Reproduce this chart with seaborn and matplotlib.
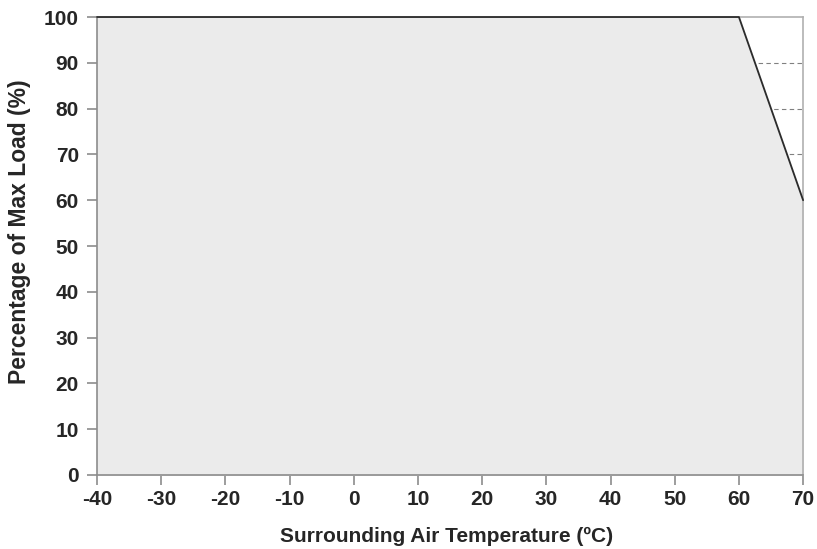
import matplotlib
matplotlib.use('Agg')
import matplotlib.pyplot as plt
import seaborn as sns
import pandas as pd

# Derating curve data
temperature = [-40, 60, 70]
load_pct = [100, 100, 60]
x_ticks = [-40, -30, -20, -10, 0, 10, 20, 30, 40, 50, 60, 70]
y_ticks = [0, 10, 20, 30, 40, 50, 60, 70, 80, 90, 100]


def main():
    sns.set_style('white')
    plt.rcParams['font.family'] = ['Liberation Sans', 'DejaVu Sans']
    plt.rcParams['font.weight'] = 'bold'
    plt.rcParams['axes.unicode_minus'] = False

    df = pd.DataFrame({'temp': temperature, 'load': load_pct})

    fig = plt.figure(figsize=(8.17, 5.49), dpi=100)
    ax = fig.add_axes([0.1187, 0.1348, 0.8643, 0.8342])

    # dashed horizontal gridlines (hidden under fill where covered)
    for yv in y_ticks[1:-1]:
        ax.axhline(yv, color='#808080', linestyle=(0, (4, 3)), linewidth=0.8, zorder=0)

    ax.fill_between(df['temp'], df['load'], 0, color='#ebebeb', zorder=1)
    sns.lineplot(data=df, x='temp', y='load', color='#2b2b2b', linewidth=1.3, ax=ax,
                 zorder=4, clip_on=False)

    ax.set_xlim(-40, 70)
    ax.set_ylim(0, 100)
    ax.set_xticks(x_ticks)
    ax.set_yticks(y_ticks)

    for side in ['left', 'bottom', 'right', 'top']:
        ax.spines[side].set_color('#8c8c8c')
        ax.spines[side].set_linewidth(1.2)
        ax.spines[side].set_zorder(3)
    ax.spines['right'].set_color('#b0b0b0')
    ax.spines['top'].set_color('#b0b0b0')

    ax.tick_params(axis='both', direction='out', length=7, width=1.2, color='#8c8c8c',
                   labelsize=15, pad=6, bottom=True, left=True)
    for lbl in ax.get_xticklabels() + ax.get_yticklabels():
        lbl.set_fontweight('bold')
    ax.tick_params(axis='x', pad=4)

    ax.set_xlabel('Surrounding Air Temperature (ºC)', fontsize=15, fontweight='bold')
    ax.set_ylabel('Percentage of Max Load (%)', fontsize=16.5, fontweight='bold')
    ax.xaxis.set_label_coords(0.495, -0.114)
    ax.yaxis.set_label_coords(-0.093, 0.531)

    fig.savefig('out.png', dpi=100)


if __name__ == "__main__":
    main()
